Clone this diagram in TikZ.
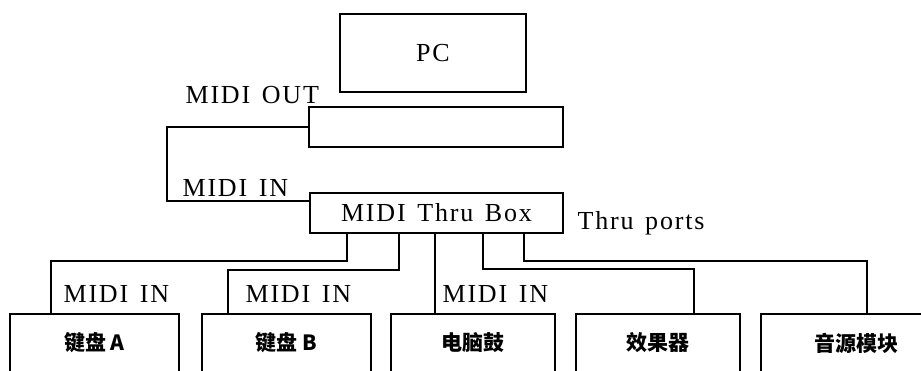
\documentclass[tikz,border=0pt]{standalone}
\usepackage{fontspec}
\setmainfont{Liberation Serif}[LetterSpace=7,WordSpace=1.4]
\newfontfamily\cjk{Noto Sans CJK SC}
\begin{document}
\begin{tikzpicture}[x=1pt,y=-1pt,line width=1.2pt,
  box/.style={draw,inner sep=0pt,font=\fontsize{26}{30}\selectfont},
  cbox/.style={draw,inner sep=0pt,minimum height=58pt,font=\cjk\bfseries\fontsize{21}{25}\selectfont},
  lbl/.style={inner sep=0pt,anchor=base west,font=\fontsize{26}{30}\selectfont}]
\useasboundingbox (0,0) rectangle (921,370);
\clip (0,0) rectangle (921,370);
\node[box,minimum width=186pt,minimum height=78pt] (pc) at (433,53) {PC};
\node[box,minimum width=254pt,minimum height=40pt] (port) at (436,127) {};
\node[box,minimum width=253pt,minimum height=40pt] (thru) at (436.5,213) {MIDI Thru Box};
\node[cbox,minimum width=169pt] (kbA) at (94.5,343) {键盘 A};
\node[cbox,minimum width=169pt] (kbB) at (286.5,343) {键盘 B};
\node[cbox,minimum width=164pt] (drum) at (473,343) {电脑鼓};
\node[cbox,minimum width=164pt] (fx) at (658,343) {效果器};
\node[cbox,minimum width=190pt] (src) at (856,343) {音源模块};
\node[lbl] (lout) at (185,103) {MIDI OUT};
\node[lbl] (lin) at (182,196) {MIDI IN};
\node[lbl] (lports) at (577,229) {Thru ports};
\node[lbl] (linA) at (63,302) {MIDI IN};
\node[lbl] (linB) at (245,302) {MIDI IN};
\node[lbl] (linC) at (442,302) {MIDI IN};
\draw (port.west) -| (167,201) -- (thru.west |- 0,201);
\draw (thru.south -| 347,0) |- (51,261) -- (kbA.north -| 51,0);
\draw (thru.south -| 399,0) |- (228,270) -- (kbB.north -| 228,0);
\draw (thru.south -| 435,0) -- (drum.north -| 435,0);
\draw (thru.south -| 483,0) |- (694,269) -- (fx.north -| 694,0);
\draw (thru.south -| 524,0) |- (867,261) -- (src.north -| 867,0);
\end{tikzpicture}
\end{document}
